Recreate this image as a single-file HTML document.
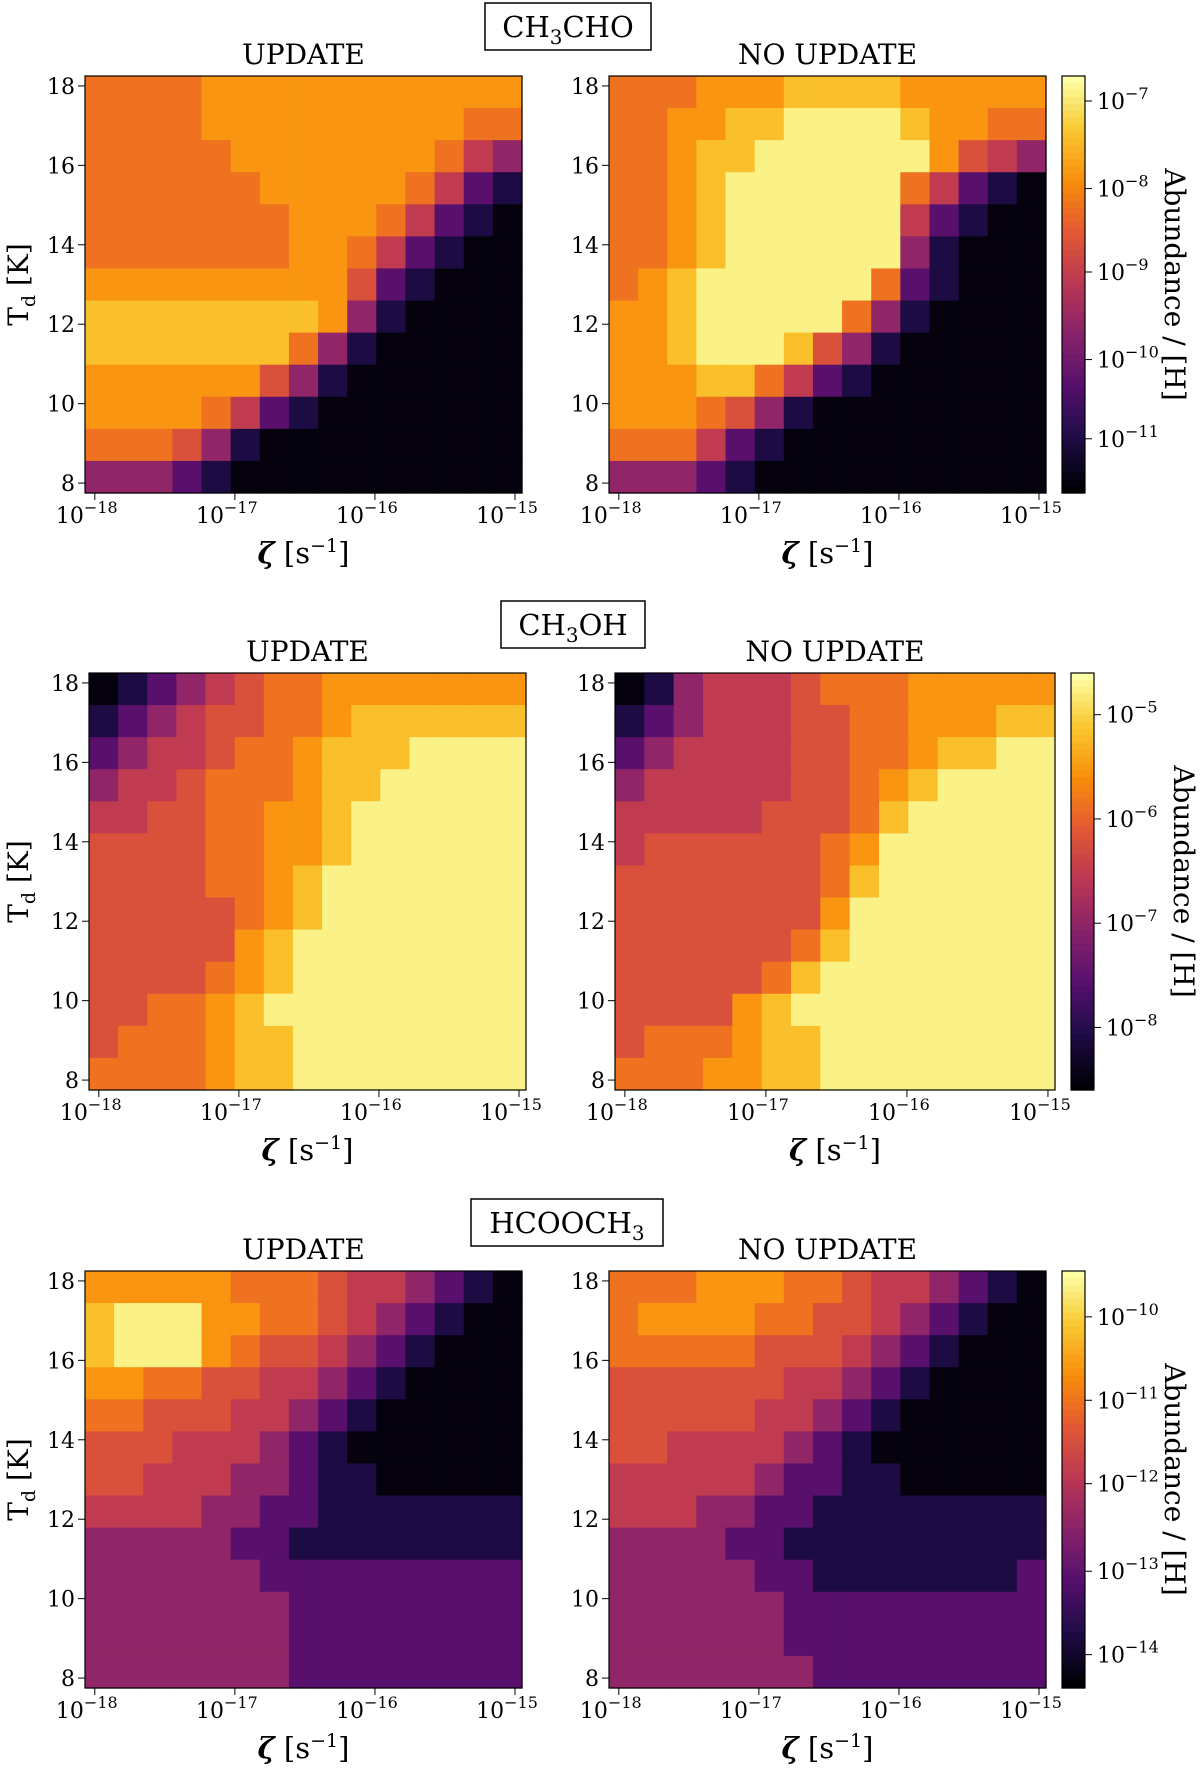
<!DOCTYPE html>
<html><head><meta charset="utf-8">
<style>
html,body{margin:0;padding:0;background:#fff;}
svg{display:block;font-family:"DejaVu Serif","Liberation Serif",serif;}
</style></head>
<body>
<svg id="fig" width="1200" height="1772" viewBox="0 0 1200 1772" xmlns="http://www.w3.org/2000/svg"></svg>
<script>
// Data: rows from Td=18 (top) to Td=8 (bottom); columns log10(zeta) -18 .. -15; digits = colour level 0..9
const tdValues = [18,17.17,16.33,15.5,14.67,13.83,13,12.17,11.33,10.5,9.67,8.83,8];
const logZeta = [-18,-17.79,-17.57,-17.36,-17.14,-16.93,-16.71,-16.5,-16.29,-16.07,-15.86,-15.64,-15.43,-15.21,-15];
const ch3choUpdate = ["666677777777777","666677777777766","666667777777643","666666777776421","666666677764210","666666677642100","777777777521000","888888887310000","888888863100000","777777531000000","777764210000000","666531000000000","333210000000000"];
const ch3choNoUpdate = ["666777888877777","667788999987766","667889999997543","667899999964210","667899999942100","667899999931000","678999999621000","778999996310000","778999853100000","777886421000000","777653100000000","666421000000000","333210000000000"];
const ch3ohUpdate = ["012345667777777","123455667888888","234456678889999","344566678899999","445566778999999","555566778999999","555566789999999","555556789999999","555557899999999","555567899999999","556678999999999","566678899999999","666678899999999"];
const ch3ohNoUpdate = ["013444566677777","123444556677788","234444556678899","344444556789999","444445556899999","455555567999999","555555568999999","555555579999999","555555689999999","555556899999999","555578999999999","566678899999999","666778899999999"];
const hcoochUpdate = ["777776665443210","899977665432100","899976554321000","776655443210000","665554432100000","555444321000000","554443321100000","444433221111111","333332211111111","333333222222222","333333322222222","333333322222222","333333322222222"];
const hcoochNoUpdate = ["666777665443210","677776655432100","666665554321000","555555443210000","555554432100000","554444321000000","444443221100000","444332211111111","333322111111111","333332211111112","333333222222222","333333222222222","333333322222222"];
const yTicks = [8,10,12,14,16,18];
const xTicks = [-18,-17,-16,-15];
const cb1Exp = [-7,-8,-9,-10,-11], cb1Pos = [0.06,0.27,0.47,0.68,0.87];
const cb2Exp = [-5,-6,-7,-8], cb2Pos = [0.1,0.35,0.6,0.85];
const cb3Exp = [-10,-11,-12,-13,-14], cb3Pos = [0.11,0.31,0.51,0.72,0.92];

const NS="http://www.w3.org/2000/svg";
const svg=document.getElementById('fig');
function mk(tag,attrs,parent){const e=document.createElementNS(NS,tag);for(const k in attrs)e.setAttribute(k,attrs[k]);(parent||svg).appendChild(e);return e;}
const stops=[[0,0,0,4],[0.13,31,12,72],[0.25,85,15,109],[0.38,136,34,106],[0.5,186,54,85],[0.63,227,89,51],[0.75,249,140,10],[0.88,249,201,50],[1,252,255,164]];
function inferno(t){t=Math.max(0,Math.min(1,t));for(let i=1;i<stops.length;i++){if(t<=stops[i][0]){const a=stops[i-1],b=stops[i],f=(t-a[0])/(b[0]-a[0]);return `rgb(${[1,2,3].map(j=>Math.round(a[j]+f*(b[j]-a[j]))).join(',')})`;}}return 'rgb(252,255,164)';}
function lvl(c){return [0.02,0.12,0.26,0.4,0.52,0.6,0.69,0.77,0.86,0.97][+c];}

function panel(x0,y0,w,h,data,sub,name){
  const g=mk('g',{});
  
  
  const xs=v=>x0+(v-(-18.07))/((-14.95)-(-18.07))*w;
  const ys=v=>y0+h-(v-7.75)/(18.25-7.75)*h;
  const nc=logZeta.length,nr=tdValues.length,cw=w/nc,ch=h/nr;
  data.forEach((row,r)=>{for(let c=0;c<nc;c++){
    const cell=mk('rect',{x:(x0+c*cw).toFixed(2),y:(y0+r*ch).toFixed(2),width:(cw+0.6).toFixed(2),height:(ch+0.6).toFixed(2),fill:inferno(lvl(row[c]))},g);
    
    
  }});
  mk('rect',{x:x0,y:y0,width:w,height:h,fill:'none',stroke:'#000','stroke-width':1.2},g);
  yTicks.forEach(t=>{const y=ys(t);mk('line',{x1:x0-7,x2:x0,y1:y,y2:y,stroke:'#000'},g);
    const tx=mk('text',{x:x0-10,y:y+8,'text-anchor':'end','font-size':22},g);tx.textContent=t;
    });
  xTicks.forEach(t=>{const x=xs(t);mk('line',{x1:x,x2:x,y1:y0+h,y2:y0+h+7,stroke:'#000'},g);
    const tx=mk('text',{x:x-8,y:y0+h+30,'text-anchor':'middle','font-size':22},g);
    tx.innerHTML=`10<tspan dy="-10" font-size="16">−${-t}</tspan>`;
    });
  const st=mk('text',{x:x0+w/2,y:y0-12,'text-anchor':'middle','font-size':28},g);st.textContent=sub;
  
  const xl=mk('text',{x:x0+w/2,y:y0+h+70,'text-anchor':'middle','font-size':29},g);
  xl.innerHTML='<tspan font-style="italic" font-weight="bold">ζ</tspan> [s<tspan dy="-11" font-size="19">−1</tspan><tspan dy="11">]</tspan>';
  
  if(x0<300){const yl=mk('text',{x:0,y:0,'text-anchor':'middle','font-size':28,transform:`translate(28,${y0+h/2}) rotate(-90)`},g);
    yl.innerHTML='T<tspan dy="7" font-size="19">d</tspan><tspan dy="-7"> [K]</tspan>';
    }
}
function colorbar(x0,y0,w,h,exps,pos,name){
  const g=mk('g',{});
  
  const n=60;for(let i=0;i<n;i++){mk('rect',{x:x0,y:y0+i*h/n,width:w,height:h/n+0.6,fill:inferno(1-i/(n-1))},g);}
  mk('rect',{x:x0,y:y0,width:w,height:h,fill:'none',stroke:'#000','stroke-width':1.2},g);
  exps.forEach((e,i)=>{const y=y0+pos[i]*h;mk('line',{x1:x0+w,x2:x0+w+7,y1:y,y2:y,stroke:'#000'},g);
    const tx=mk('text',{x:x0+w+12,y:y+8,'font-size':22},g);tx.innerHTML=`10<tspan dy="-10" font-size="16">−${-e}</tspan>`;
    });
  const lb=mk('text',{x:0,y:0,'text-anchor':'middle','font-size':28,transform:`translate(${x0+w+80},${y0+h/2}) rotate(90)`},g);
  lb.textContent='Abundance / [H]';
}
function title(cx,y,bw,html,name){
  const g=mk('g',{});
  mk('rect',{x:cx-bw/2,y:y,width:bw,height:47,fill:'#fff',stroke:'#000','stroke-width':1.5},g);
  const t=mk('text',{x:cx,y:y+34,'text-anchor':'middle','font-size':29},g);t.innerHTML=html;
}
const rows=[{y:76,l:85,r:609,cb:1062,t:3,bw:166,ttl:'CH<tspan dy="7" font-size="20">3</tspan><tspan dy="-7">CHO</tspan>',d:[ch3choUpdate,ch3choNoUpdate],e:cb1Exp,p:cb1Pos,n:'ch3cho'},
 {y:673,l:89,r:615,cb:1071,t:601,bw:144,ttl:'CH<tspan dy="7" font-size="20">3</tspan><tspan dy="-7">OH</tspan>',d:[ch3ohUpdate,ch3ohNoUpdate],e:cb2Exp,p:cb2Pos,n:'ch3oh'},
 {y:1271,l:85,r:609,cb:1062,t:1199,bw:192,ttl:'HCOOCH<tspan dy="7" font-size="20">3</tspan>',d:[hcoochUpdate,hcoochNoUpdate],e:cb3Exp,p:cb3Pos,n:'hcooch3'}];
rows.forEach(R=>{
  const w=437,h=417;
  panel(R.l,R.y,w,h,R.d[0],'UPDATE',R.n+'-update-heatmap');
  panel(R.r,R.y,R.n==='ch3oh'?440:w,h,R.d[1],'NO UPDATE',R.n+'-no-update-heatmap');
  colorbar(R.cb,R.y,23,h,R.e,R.p,R.n+'-colorbar');
  title(R.n==='ch3oh'?573:(R.n==='ch3cho'?568:567),R.t,R.bw,R.ttl,R.n+'-title');
});
</script>
</body></html>
